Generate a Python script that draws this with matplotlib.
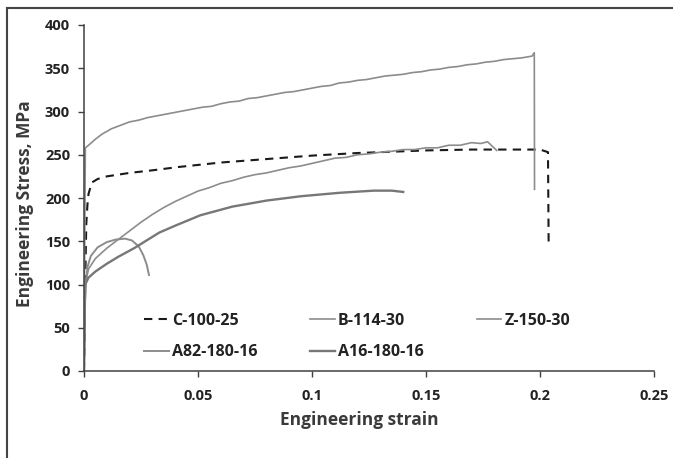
import matplotlib.pyplot as plt
from matplotlib.lines import Line2D

plt.rcParams['font.family'] = ['Open Sans', 'DejaVu Sans']

# ----------------- Data -----------------
c_strain = [0, 0.0006, 0.001, 0.0015, 0.002, 0.0035, 0.006, 0.01, 0.02, 0.03, 0.042, 0.06, 0.08,
            0.1, 0.12, 0.15, 0.17, 0.19, 0.2, 0.2035, 0.2038]
c_stress = [0, 110, 170, 192, 205, 218, 222, 225, 229, 232, 236, 241, 245,
            249, 252, 255, 256, 256, 256, 253, 143]

b_strain = [0, 0.0005, 0.002, 0.005, 0.01, 0.015, 0.02, 0.025, 0.03, 0.035, 0.04, 0.045, 0.05,
            0.055, 0.06, 0.065, 0.07, 0.075, 0.08, 0.085, 0.09, 0.095, 0.1, 0.105, 0.11,
            0.115, 0.12, 0.125, 0.13, 0.135, 0.14, 0.145, 0.15, 0.155, 0.16, 0.165, 0.17,
            0.174, 0.177, 0.181]
b_stress = [0, 100, 118, 130, 142, 152, 162, 172, 181, 189, 196, 202, 208,
            212, 217, 220, 224, 227, 229, 232, 235, 237, 240, 243, 246,
            247, 250, 251, 253, 254, 256, 256, 258, 258, 261, 261, 264,
            263, 265, 255]

z_strain = [0, 0.0003, 0.0006, 0.002, 0.005, 0.008, 0.012, 0.016, 0.02, 0.024, 0.028, 0.032,
            0.036, 0.04, 0.044, 0.048, 0.052, 0.056, 0.06, 0.064, 0.068, 0.072, 0.076, 0.08,
            0.084, 0.088, 0.092, 0.096, 0.1, 0.104, 0.108, 0.112, 0.116, 0.12, 0.124, 0.128,
            0.132, 0.136, 0.14, 0.144, 0.148, 0.152, 0.156, 0.16, 0.164, 0.168, 0.172, 0.176,
            0.18, 0.184, 0.188, 0.192, 0.1965, 0.1975, 0.1976]
z_stress = [0, 150, 258, 261, 268, 274, 280, 284, 288, 290, 293, 295,
            297, 299, 301, 303, 305, 306, 309, 311, 312, 315, 316, 318,
            320, 322, 323, 325, 327, 329, 330, 333, 334, 336, 337, 339,
            341, 342, 343, 345, 346, 348, 349, 351, 352, 354, 355, 357,
            358, 360, 361, 362, 364, 368, 210]

a82_strain = [0, 0.0005, 0.0015, 0.003, 0.006, 0.01, 0.014, 0.018, 0.021, 0.024, 0.026, 0.0275, 0.0285]
a82_stress = [0, 90, 120, 133, 143, 149, 152, 153, 151, 144, 134, 123, 111]

a16_strain = [0, 0.0005, 0.002, 0.005, 0.01, 0.015, 0.022, 0.033, 0.04, 0.051, 0.065, 0.08,
              0.095, 0.112, 0.127, 0.135, 0.14]
a16_stress = [0, 100, 108, 115, 124, 132, 142, 160, 168, 180, 190, 197,
              202, 206, 208.5, 208.5, 207]

# ----------------- Plot -----------------
fig = plt.figure(figsize=(6.73, 4.58), dpi=100)
ax = fig.add_axes([84 / 673, 1 - 371 / 458, 570 / 673, 346 / 458])

gray = '#8c8c8c'
ax.plot(c_strain, c_stress, color='#1a1a1a', lw=1.5, ls=(0, (4, 3)), label='C-100-25')
ax.plot(a82_strain, a82_stress, color=gray, lw=1.4, label='A82-180-16')
ax.plot(b_strain, b_stress, color=gray, lw=1.2, label='B-114-30')
ax.plot(a16_strain, a16_stress, color='#777777', lw=1.7, label='A16-180-16')
ax.plot(z_strain, z_stress, color=gray, lw=1.2, label='Z-150-30')

ax.set_xlim(0, 0.25)
ax.set_ylim(0, 400)
ax.set_xticks([0, 0.05, 0.1, 0.15, 0.2, 0.25])
ax.set_xticklabels(['0', '0.05', '0.1', '0.15', '0.2', '0.25'])
ax.set_yticks(range(0, 401, 50))

for s in ['top', 'right']:
    ax.spines[s].set_visible(False)
for s in ['left', 'bottom']:
    ax.spines[s].set_color('#404040')
    ax.spines[s].set_linewidth(1.1)

ax.tick_params(direction='out', length=4, width=1, color='#404040',
               labelsize=10.5, labelcolor='#222222')
ax.tick_params(axis='x', pad=9)
ax.tick_params(axis='y', pad=6)
for lab in ax.get_xticklabels() + ax.get_yticklabels():
    lab.set_fontweight('bold')

ax.set_xlabel('Engineering strain', fontsize=12.5, fontweight='bold', color='#3a3a3a')
ax.set_ylabel('Engineering Stress, MPa', fontsize=12.5, fontweight='bold', color='#3a3a3a')
ax.xaxis.set_label_coords((359 - 84) / 570, -0.116)
ax.yaxis.set_label_coords(-0.088, (371 - 204) / 346)

leg = ax.legend(ncol=3, loc='upper left', bbox_to_anchor=(60 / 570, 1 - (313 - 25) / 346),
                frameon=False, prop={'size': 11.5, 'weight': 'bold'},
                handlelength=1.55, handletextpad=0.2, columnspacing=3.3,
                labelspacing=0.95, borderpad=0, borderaxespad=0)
for t in leg.get_texts():
    t.set_color('#222222')

# outer frame (only top and left edges visible)
fig.add_artist(Line2D([7 / 673, 7 / 673], [0, 1 - 8 / 458], transform=fig.transFigure,
                      color='#444444', lw=1.5))
fig.add_artist(Line2D([7 / 673, 1], [1 - 8 / 458, 1 - 8 / 458], transform=fig.transFigure,
                      color='#444444', lw=1.5))

fig.savefig('out.png', dpi=100)
